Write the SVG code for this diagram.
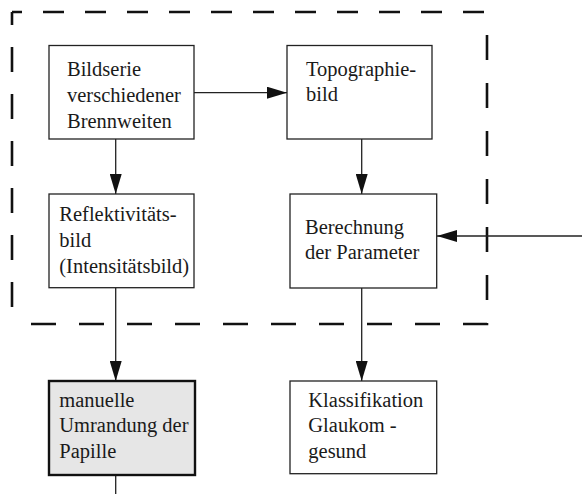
<svg xmlns="http://www.w3.org/2000/svg" width="582" height="494" viewBox="0 0 582 494">
<style>
.box{fill:#fff;stroke:#222;stroke-width:1.3}
.hl{fill:#e6e6e6;stroke:#111;stroke-width:2.4}
.c{stroke:#222;stroke-width:1.3;fill:none}
.d{fill:none;stroke:#111;stroke-width:2.6}
</style>
<defs>
<marker id="ah" viewBox="0 0 20 12" refX="20" refY="6" markerWidth="20" markerHeight="12" markerUnits="userSpaceOnUse" orient="auto">
<path d="M0,0 L20,6 L0,12 Z" fill="#111"/>
</marker>
</defs>
<rect width="582" height="494" fill="#fff"/>
<g id="frame">
<path class="d" d="M12,12 H488" stroke-dasharray="21 21" stroke-dashoffset="11"/>
<path class="d" d="M487,35 V324 H12" stroke-dasharray="25 23"/>
<path class="d" d="M12,12 V310" stroke-dasharray="25 22" stroke-dashoffset="12"/>
</g>
<g id="connectors">
<line class="c" x1="194" y1="92.7" x2="287" y2="92.7" marker-end="url(#ah)"/>
<line class="c" x1="115.7" y1="139" x2="115.7" y2="194" marker-end="url(#ah)"/>
<line class="c" x1="361.7" y1="139" x2="361.7" y2="194" marker-end="url(#ah)"/>
<line class="c" x1="582" y1="236" x2="437" y2="236" marker-end="url(#ah)"/>
<line class="c" x1="115.7" y1="288" x2="115.7" y2="381" marker-end="url(#ah)"/>
<line class="c" x1="361.7" y1="288" x2="361.7" y2="381" marker-end="url(#ah)"/>
<line class="c" x1="115.7" y1="475" x2="115.7" y2="494"/>
</g>
<g font-family="'Liberation Serif', 'DejaVu Serif', serif" font-size="20.5" fill="#1a1a1a">
<g id="n1">
<rect class="box" x="49" y="45.5" width="145" height="93.5"/>
<text x="67" y="76">Bildserie</text>
<text x="67" y="101.7">verschiedener</text>
<text x="67" y="128">Brennweiten</text>
</g>
<g id="n2">
<rect class="box" x="287" y="45.5" width="145" height="93.5"/>
<text x="306" y="76">Topographie-</text>
<text x="306" y="100.7">bild</text>
</g>
<g id="n3">
<rect class="box" x="49" y="194" width="145" height="93.7"/>
<text x="59.3" y="221">Reflektivitäts-</text>
<text x="59.3" y="247.3">bild</text>
<text x="59.3" y="272.7">(Intensitätsbild)</text>
</g>
<g id="n4">
<rect class="box" x="290" y="194" width="146.7" height="94"/>
<text x="305" y="234">Berechnung</text>
<text x="305" y="259.3">der Parameter</text>
</g>
<g id="n5">
<rect class="hl" x="49" y="381" width="146" height="94"/>
<text x="59.3" y="406.7">manuelle</text>
<text x="59.3" y="432.3">Umrandung der</text>
<text x="59.3" y="457.7">Papille</text>
</g>
<g id="n6">
<rect class="box" x="290" y="381" width="146.7" height="92.7"/>
<text x="308.3" y="406.7">Klassifikation</text>
<text x="308.3" y="432.3">Glaukom -</text>
<text x="308.3" y="457.7">gesund</text>
</g>
</g>
</svg>
